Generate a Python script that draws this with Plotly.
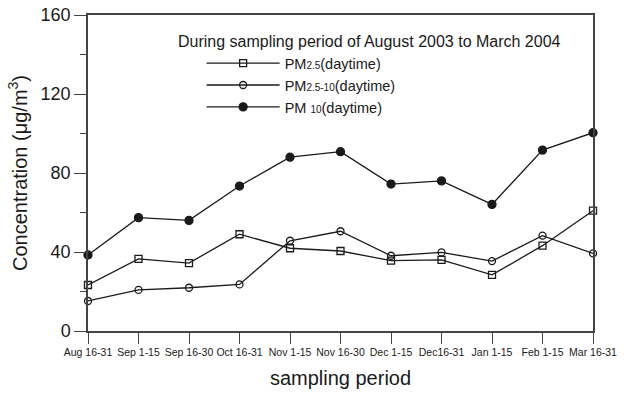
import plotly.graph_objects as go

periods = ["Aug 16-31", "Sep 1-15", "Sep 16-30", "Oct 16-31", "Nov 1-15",
           "Nov 16-30", "Dec 1-15", "Dec16-31", "Jan 1-15", "Feb 1-15", "Mar 16-31"]
pm25 = [23.3, 36.5, 34.4, 49.0, 41.9, 40.5, 35.6, 36.0, 28.4, 43.2, 60.9]
pm25_10 = [15.2, 20.8, 21.9, 23.6, 45.7, 50.5, 38.1, 39.8, 35.4, 48.3, 39.3]
pm10 = [38.5, 57.4, 56.0, 73.4, 88.0, 90.8, 74.4, 76.0, 64.1, 91.6, 100.4]

y_ticks = [0, 40, 80, 120, 160]

FONT = "Arial, Liberation Sans, Helvetica, sans-serif"
INK = "#1a1a1a"
AXIS = "#444444"


def small(s):
    return "<span style='font-size:10px'>" + s + "</span>"


fig = go.Figure()

series = [
    ("PM" + small("2.5") + "(daytime)", pm25, "square-open", 7),
    ("PM" + small("2.5-10") + "(daytime)", pm25_10, "circle-open", 7),
    ("PM " + small("10") + "(daytime)", pm10, "circle", 8),
]
for name, vals, sym, size in series:
    fig.add_trace(go.Scatter(
        x=list(range(len(periods))), y=vals, name=name,
        mode="lines+markers",
        line=dict(color=INK, width=1.3),
        marker=dict(symbol=sym, size=size, color=INK,
                    line=dict(color=INK, width=1.3)),
        cliponaxis=False,
    ))

fig.update_layout(
    width=632, height=395,
    margin=dict(l=88, r=39, t=15, b=64, autoexpand=False),
    paper_bgcolor="white", plot_bgcolor="white",
    font=dict(family=FONT, color=INK),
    showlegend=True,
    legend=dict(
        x=0.225, y=0.898, xanchor="left", yanchor="top",
        bgcolor="rgba(0,0,0,0)", borderwidth=0,
        font=dict(size=14.5, family=FONT, color=INK),
        itemwidth=73, tracegroupgap=0,
    ),
    annotations=[dict(
        text="During sampling period of August 2003 to March 2004",
        xref="paper", yref="paper", x=0.174, y=0.915,
        xanchor="left", yanchor="middle", showarrow=False,
        font=dict(size=16, family=FONT, color=INK),
    )],
)

fig.update_xaxes(
    range=[0, len(periods) - 1], automargin=False,
    tickmode="array", tickvals=list(range(len(periods))), ticktext=periods,
    tickangle=0,
    ticks="outside", ticklen=11, tickwidth=1.3, tickcolor=AXIS,
    tickfont=dict(size=10.5, family=FONT, color=INK),
    showline=True, linecolor=AXIS, linewidth=1.5, mirror=True,
    showgrid=False, zeroline=False,
    title=dict(text="sampling period", font=dict(size=20, family=FONT, color=INK),
               standoff=14),
)

fig.update_yaxes(
    range=[0, 160], automargin=False,
    tickmode="array", tickvals=y_ticks,
    ticks="outside", ticklen=12, tickwidth=1.3, tickcolor=AXIS,
    tickfont=dict(size=18, family=FONT, color=INK),
    minor=dict(dtick=20, ticks="outside", ticklen=6, tickwidth=1.3, tickcolor=AXIS,
               showgrid=False),
    showline=True, linecolor=AXIS, linewidth=1.5, mirror=True,
    showgrid=False, zeroline=False,
    title=dict(text="Concentration (μg/m<sup>3</sup>)",
               font=dict(size=20, family=FONT, color=INK), standoff=8),
)

fig.write_html("out.html")
